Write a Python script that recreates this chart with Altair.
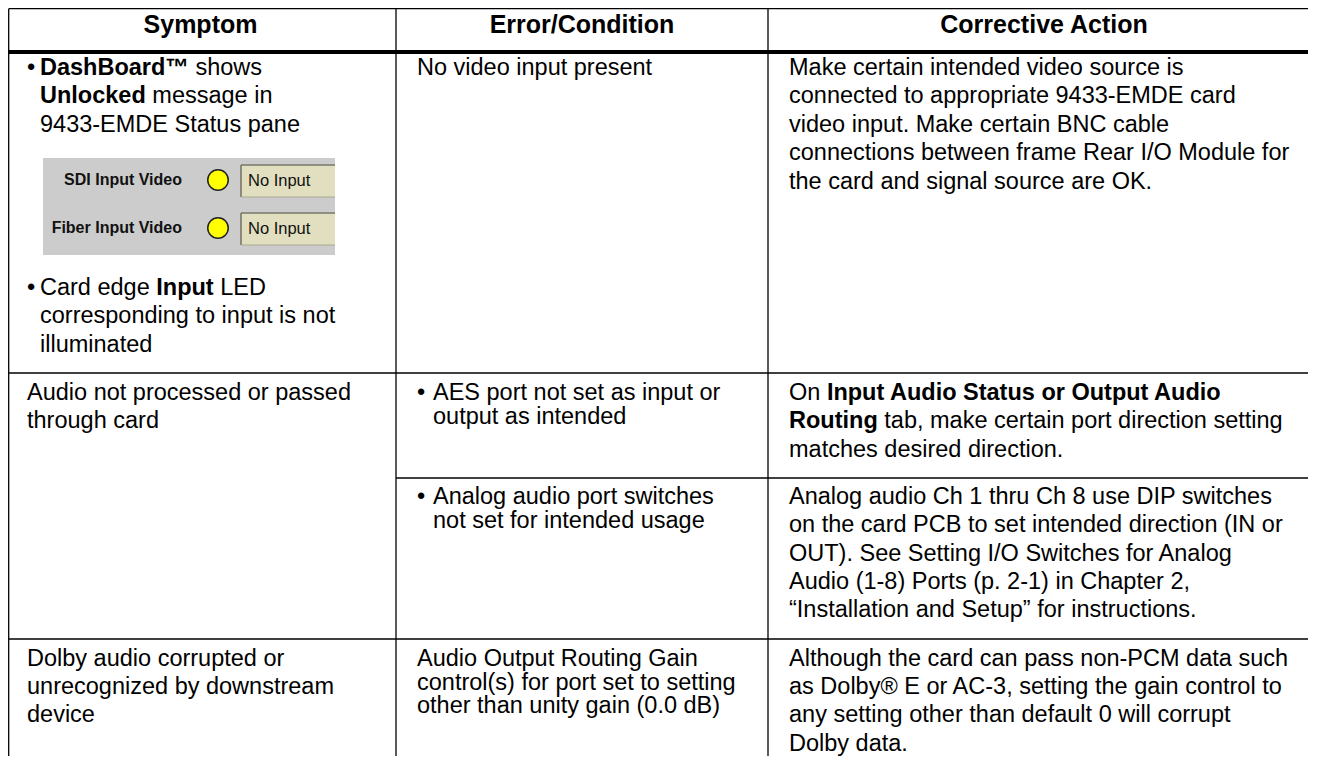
import altair as alt
import pandas as pd

# ---------------- table content ----------------
HEADERS = ["Symptom", "Error/Condition", "Corrective Action"]

SYMPTOM_ROW1_A = ["**DashBoard™** shows", "**Unlocked** message in", "9433-EMDE Status pane"]
SYMPTOM_ROW1_B = ["Card edge **Input** LED", "corresponding to input is not", "illuminated"]
SYMPTOM_ROW2 = ["Audio not processed or passed", "through card"]
SYMPTOM_ROW3 = ["Dolby audio corrupted or", "unrecognized by downstream", "device"]

STATUS_LABELS = ["SDI Input Video", "Fiber Input Video"]
STATUS_VALUES = ["No Input", "No Input"]

CONDITION_ROW1 = ["No video input present"]
CONDITION_ROW2A = ["AES port not set as input or", "output as intended"]
CONDITION_ROW2B = ["Analog audio port switches", "not set for intended usage"]
CONDITION_ROW3 = ["Audio Output Routing Gain", "control(s) for port set to setting",
                  "other than unity gain (0.0 dB)"]

ACTION_ROW1 = ["Make certain intended video source is",
               "connected to appropriate 9433-EMDE card",
               "video input. Make certain BNC cable",
               "connections between frame Rear I/O Module for",
               "the card and signal source are OK."]
ACTION_ROW2A = ["On **Input Audio Status or Output Audio**",
                "**Routing** tab, make certain port direction setting",
                "matches desired direction."]
ACTION_ROW2B = ["Analog audio Ch 1 thru Ch 8 use DIP switches",
                "on the card PCB to set intended direction (IN or",
                "OUT). See Setting I/O Switches for Analog",
                "Audio (1-8) Ports (p. 2-1) in Chapter 2,",
                "\u201cInstallation and Setup\u201d for instructions."]
ACTION_ROW3 = ["Although the card can pass non-PCM data such",
               "as Dolby\u00ae E or AC-3, setting the gain control to",
               "any setting other than default 0 will corrupt",
               "Dolby data."]

# ---------------- layout (page pixels) ----------------
W, H = 1300, 748
X0, Y0 = 8, 8
FONT = "Liberation Sans, Arial, Helvetica, sans-serif"
BODY = 23.5
HEAD = 25
COL_X = [5, 396, 768, 1320]
ROW_Y = [4, 52, 373, 639]
SUB_Y = 478

REG_W = {' ': 278, 'O': 778, 'n': 556, 'C': 722, 'a': 556, 'r': 333, 'd': 556,
         'e': 556, 'g': 556}
BOLD_W = {' ': 278, 'D': 722, 'a': 556, 's': 556, 'h': 611, 'B': 722, 'o': 611,
          'r': 389, 'd': 611, '\u2122': 1000, 'U': 722, 'n': 611, 'l': 278,
          'c': 556, 'k': 556, 'e': 556, 'I': 278, 'p': 611, 'u': 611, 't': 333,
          'A': 722, 'i': 278, 'S': 667, 'O': 778, 'R': 722, 'g': 611}


def tw(s, bold, size):
    tbl = BOLD_W if bold else REG_W
    return sum(tbl.get(c, 556) for c in s) * size / 1000.0


rows = []


def add_block(lines, x0, y0, dy, bullet_x=None, size=BODY):
    for i, line in enumerate(lines):
        y = y0 + i * dy
        if i == 0 and bullet_x is not None:
            rows.append(dict(x=bullet_x, y=y, text="\u2022", bold=False))
        cur = x0
        for j, seg in enumerate(line.split("**")):
            bold = (j % 2 == 1)
            if not seg:
                continue
            lead = len(seg) - len(seg.lstrip(" "))
            cur += tw(" " * lead, bold, size)
            core = seg.strip(" ")
            if core:
                rows.append(dict(x=cur, y=y, text=core, bold=bold))
            cur += tw(core, bold, size)
            trail = len(seg) - len(seg.rstrip(" ")) if core else 0
            cur += tw(" " * trail, bold, size)


add_block(SYMPTOM_ROW1_A, 40, 75, 28.4, bullet_x=27)
add_block(SYMPTOM_ROW1_B, 40, 295, 28.4, bullet_x=27)
add_block(SYMPTOM_ROW2, 27, 400, 28.4)
add_block(SYMPTOM_ROW3, 27, 666, 28.2)
add_block(CONDITION_ROW1, 417, 75, 23.5)
add_block(CONDITION_ROW2A, 433, 400, 23.5, bullet_x=417)
add_block(CONDITION_ROW2B, 433, 504, 23.5, bullet_x=417)
add_block(CONDITION_ROW3, 417, 666, 23.5)
add_block(ACTION_ROW1, 789, 75, 28.4)
add_block(ACTION_ROW2A, 789, 400, 28.4)
add_block(ACTION_ROW2B, 789, 504, 28.3)
add_block(ACTION_ROW3, 789, 666, 28.2)

body = pd.DataFrame(rows)
body_reg = body[~body["bold"]]
body_bold = body[body["bold"]]

heads = pd.DataFrame({
    "x": [(COL_X[i] + COL_X[i + 1]) / 2 for i in range(3)],
    "y": [33] * 3,
    "text": HEADERS,
})

# grid lines
top = Y0 + 0.7
left = X0 + 0.7
right = X0 + W
bottom = Y0 + H
thin = pd.DataFrame([
    dict(x=left, x2=right, y=top, y2=top),
    dict(x=left, x2=left, y=top, y2=bottom),
    dict(x=COL_X[1], x2=COL_X[1], y=top, y2=bottom),
    dict(x=COL_X[2], x2=COL_X[2], y=top, y2=bottom),
    dict(x=left, x2=right, y=ROW_Y[2], y2=ROW_Y[2]),
    dict(x=COL_X[1], x2=right, y=SUB_Y, y2=SUB_Y),
    dict(x=left, x2=right, y=ROW_Y[3], y2=ROW_Y[3]),
])
thick = pd.DataFrame([dict(x=left, x2=right, y=ROW_Y[1], y2=ROW_Y[1])])

# embedded status panel
PX1, PX2, PY1, PY2 = 43, 335, 158, 255
panel = pd.DataFrame([dict(x=PX1, x2=PX2, y=PY1, y2=PY2)])
status_y = [180, 228]
BX1 = 241
boxes = pd.DataFrame({"x": [BX1, BX1], "x2": [PX2, PX2],
                      "y": [y - 15 for y in status_y], "y2": [y + 17 for y in status_y]})
box_dark = pd.DataFrame(
    [dict(x=BX1, x2=PX2, y=y - 15, y2=y - 15) for y in status_y] +
    [dict(x=BX1, x2=BX1, y=y - 15, y2=y + 17) for y in status_y])
box_light = pd.DataFrame([dict(x=BX1, x2=PX2, y=y + 17, y2=y + 17) for y in status_y])
leds = pd.DataFrame({"x": [218, 218], "y": status_y})
labels = pd.DataFrame({"x": [182, 182], "y": status_y, "text": STATUS_LABELS})
values = pd.DataFrame({"x": [248, 248], "y": [y + 1 for y in status_y], "text": STATUS_VALUES})

XS = alt.Scale(domain=[X0, X0 + W], nice=False, zero=False)
YS = alt.Scale(domain=[Y0, Y0 + H], nice=False, zero=False, reverse=True)


def X(f="x"):
    return alt.X(f + ":Q", scale=XS, axis=None)


def Y(f="y"):
    return alt.Y(f + ":Q", scale=YS, axis=None)


def seg(df, color, width):
    return alt.Chart(df).mark_rule(color=color, strokeWidth=width).encode(
        x=X(), x2="x2", y=Y(), y2="y2")


layers = [
    alt.Chart(panel).mark_rect(color="#cccccc").encode(x=X(), x2="x2", y=Y(), y2="y2"),
    alt.Chart(boxes).mark_rect(fill="#e1dfc0").encode(x=X(), x2="x2", y=Y(), y2="y2"),
    seg(box_dark, "#77776a", 1.6),
    seg(box_light, "#a9a994", 1.2),
    alt.Chart(leds).mark_point(filled=True, shape="circle", size=420, fill="#ffff00",
                               stroke="#222222", strokeWidth=1.5, opacity=1).encode(x=X(), y=Y()),
    alt.Chart(labels).mark_text(font=FONT, fontSize=16, fontWeight="bold", align="right",
                                baseline="middle", color="#111111").encode(x=X(), y=Y(), text="text:N"),
    alt.Chart(values).mark_text(font=FONT, fontSize=16.5, align="left",
                                baseline="middle", color="#111111").encode(x=X(), y=Y(), text="text:N"),
    seg(thin, "black", 1.3),
    seg(thick, "black", 4),
    alt.Chart(heads).mark_text(font=FONT, fontSize=HEAD, fontWeight="bold", align="center",
                               baseline="alphabetic", color="black").encode(x=X(), y=Y(), text="text:N"),
    alt.Chart(body_reg).mark_text(font=FONT, fontSize=BODY, align="left",
                                  baseline="alphabetic", color="black").encode(x=X(), y=Y(), text="text:N"),
    alt.Chart(body_bold).mark_text(font=FONT, fontSize=BODY, fontWeight="bold", align="left",
                                   baseline="alphabetic", color="black").encode(x=X(), y=Y(), text="text:N"),
]

chart = alt.layer(*layers).properties(
    width=W, height=H, padding=0, autosize=alt.AutoSizeParams(type="none"),
    background="white",
).configure_view(stroke=None).resolve_scale(x="shared", y="shared")

chart.save("out.html", embed_options={"renderer": "svg", "actions": False})
